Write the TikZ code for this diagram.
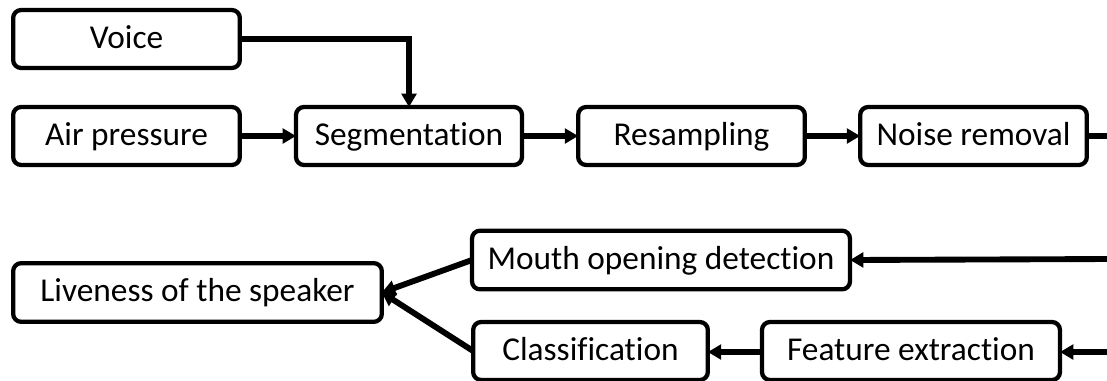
\documentclass[tikz,border=0pt]{standalone}
\usepackage{fontspec}
\setmainfont[Ligatures=NoCommon]{Carlito}
\usetikzlibrary{arrows.meta}
\begin{document}
\begin{tikzpicture}[x=0.75pt,y=-0.75pt,
  box/.style={draw=black, line width=3.2pt, rounded corners=6pt, fill=white,
    minimum height=43.5pt, inner sep=0pt, outer sep=0pt,
    text height=18pt, text depth=4pt,
    font=\fontsize{25}{29}\selectfont, text=black},
  conn/.style={draw=black, line width=4.4pt, -{Triangle[length=10pt,width=11pt]}},
  plain/.style={draw=black, line width=4.4pt}
]
\useasboundingbox (0,0) rectangle (1107,380);
\node[box, minimum width=170pt] (voice) at (126.5,39) {Voice};
\node[box, minimum width=170pt] (air) at (126.5,136) {Air pressure};
\node[box, minimum width=169.5pt] (seg) at (409,136) {Segmentation};
\node[box, minimum width=170pt] (res) at (691.5,136) {Resampling};
\node[box, minimum width=170pt] (noise) at (973.5,136) {Noise removal};
\node[box, minimum width=283.5pt, minimum height=44pt] (mouth) at (661,260) {Mouth opening detection};
\node[box, minimum width=276.5pt, minimum height=44pt] (live) at (197.5,292.5) {Liveness of the speaker};
\node[box, minimum width=176pt] (cls) at (590.5,351) {Classification};
\node[box, minimum width=223.5pt] (feat) at (911,351) {Feature extraction};
\coordinate (e1) at (1110,136);
\coordinate (e2) at (1110,259);
\coordinate (e3) at (1110,352);
\draw[conn] (voice.east) -| (seg.north);
\draw[conn] (air) -- (seg);
\draw[conn] (seg) -- (res);
\draw[conn] (res) -- (noise);
\draw[plain] (noise.east) -- (e1);
\draw[conn] (e2) -- (mouth.east);
\draw[conn] (e3) -- (feat.east |- e3);
\draw[conn] (feat.west |- e3) -- (cls.east |- e3);
\draw[conn] (mouth.west) -- (live.east);
\draw[conn] (cls.west) -- (live.east);
\end{tikzpicture}
\end{document}
